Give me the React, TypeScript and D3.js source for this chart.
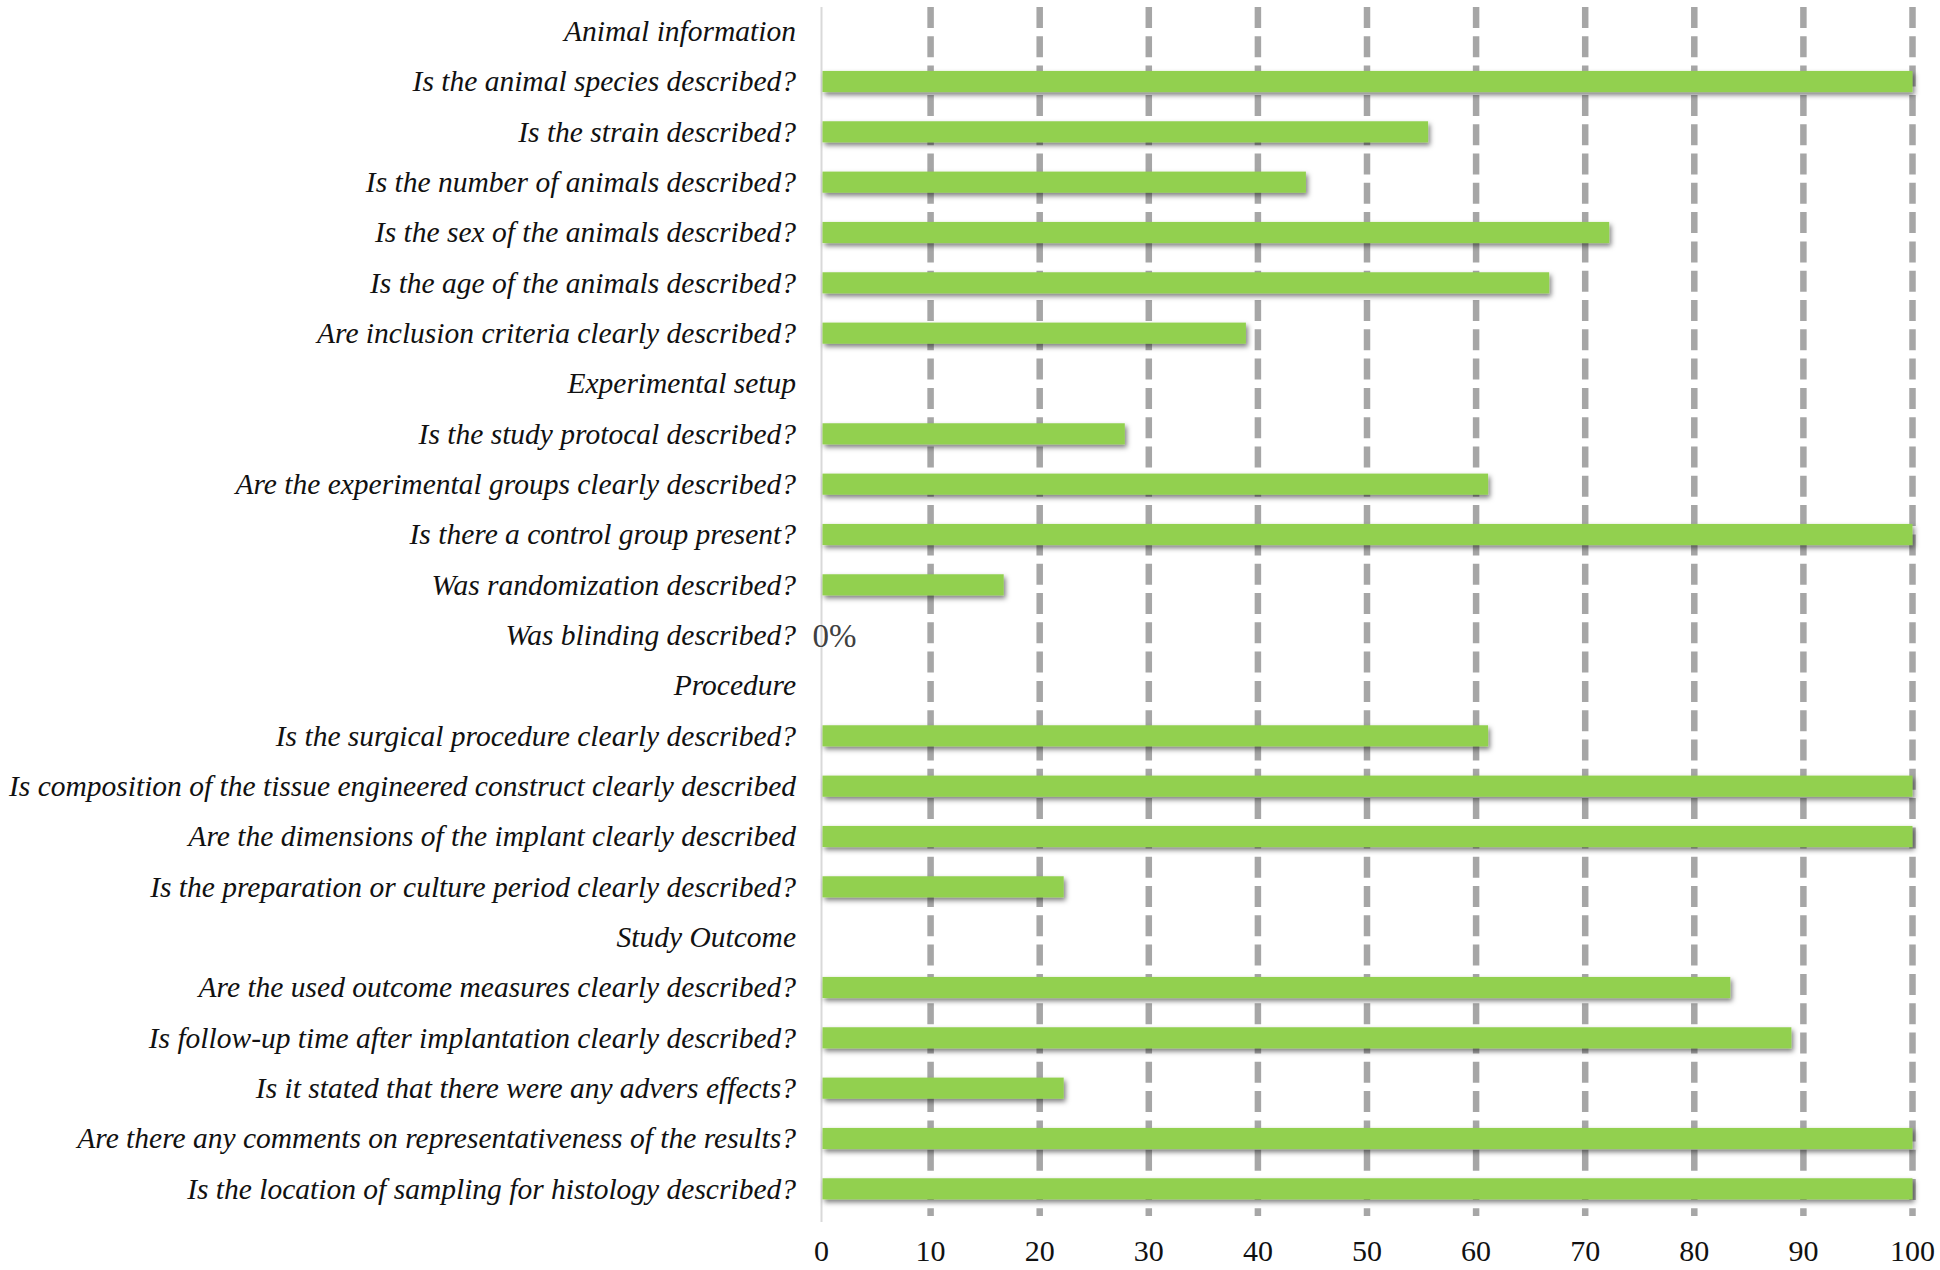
import React, { useEffect, useRef } from "react";
import * as d3 from "d3";

// rows, top to bottom. section headers have no value (null)
const categories = [
  "Animal information",
  "Is the animal species described?",
  "Is the strain described?",
  "Is the number of animals described?",
  "Is the sex of the animals described?",
  "Is the age of the animals described?",
  "Are inclusion criteria clearly described?",
  "Experimental setup",
  "Is the study protocal described?",
  "Are the experimental groups clearly described?",
  "Is there a control group present?",
  "Was randomization described?",
  "Was blinding described?",
  "Procedure",
  "Is the surgical procedure clearly described?",
  "Is composition of the tissue engineered construct clearly described",
  "Are the dimensions of the implant clearly described",
  "Is the preparation or culture period clearly described?",
  "Study Outcome",
  "Are the used outcome measures clearly described?",
  "Is follow-up time after implantation clearly described?",
  "Is it stated that there were any advers effects?",
  "Are there any comments on representativeness of the results?",
  "Is the location of sampling for histology described?",
];

// percentage of studies (n = 18)
const values: (number | null)[] = [
  null, 100, 55.6, 44.4, 72.2, 66.7, 38.9,
  null, 27.8, 61.1, 100, 16.7, 0,
  null, 61.1, 100, 100, 22.2,
  null, 83.3, 88.9, 22.2, 100, 100,
];

const xTicks = [0, 10, 20, 30, 40, 50, 60, 70, 80, 90, 100];

const W = 1940;
const H = 1270;
const FONT = "Liberation Serif";

const App = () => {
  const svgRef = useRef<SVGSVGElement | null>(null);

  useEffect(() => {
    if (!svgRef.current) return;
    const svg = d3.select(svgRef.current);
    svg.selectAll("*").remove();

    const x = d3.scaleLinear().domain([0, 100]).range([821.5, 1912.5]);
    const y = d3
      .scaleBand<string>()
      .domain(categories)
      .range([6, 1214])
      .paddingInner(0.58)
      .paddingOuter(0.29);

    const defs = svg.append("defs");
    const f = defs
      .append("filter")
      .attr("id", "barShadow")
      .attr("x", "-5%")
      .attr("y", "-50%")
      .attr("width", "110%")
      .attr("height", "220%");
    f.append("feDropShadow")
      .attr("dx", 2)
      .attr("dy", 3)
      .attr("stdDeviation", 2.5)
      .attr("flood-color", "#000")
      .attr("flood-opacity", 0.5);

    // dashed gridlines
    svg
      .append("g")
      .selectAll("line")
      .data(xTicks.filter((t) => t > 0))
      .enter()
      .append("line")
      .attr("x1", (d) => x(d))
      .attr("x2", (d) => x(d))
      .attr("y1", 7)
      .attr("y2", 1216)
      .attr("stroke", "#a6a6a6")
      .attr("stroke-width", 6.5)
      .attr("stroke-dasharray", "21 8.3");

    // category axis line at 0
    svg
      .append("line")
      .attr("x1", x(0))
      .attr("x2", x(0))
      .attr("y1", 7)
      .attr("y2", 1222)
      .attr("stroke", "#d9d9d9")
      .attr("stroke-width", 2);

    // bars
    const rows = categories.map((c, i) => ({ c, v: values[i] }));
    svg
      .append("g")
      .attr("filter", "url(#barShadow)")
      .selectAll("rect")
      .data(rows.filter((d) => d.v !== null && (d.v as number) > 0))
      .enter()
      .append("rect")
      .attr("x", x(0) + 1)
      .attr("y", (d) => y(d.c)!)
      .attr("width", (d) => x(d.v as number) - x(0) - 1)
      .attr("height", y.bandwidth())
      .attr("fill", "#92d050");

    // zero value label
    svg
      .append("g")
      .selectAll("text")
      .data(rows.filter((d) => d.v === 0))
      .enter()
      .append("text")
      .attr("x", x(0) - 9)
      .attr("y", (d) => y(d.c)! + y.bandwidth() / 2)
      .attr("dy", "0.35em")
      .style("font-family", FONT)
      .style("font-size", "33px")
      .attr("fill", "#404040")
      .text((d) => `${d.v}%`);

    // category labels
    svg
      .append("g")
      .selectAll("text")
      .data(categories)
      .enter()
      .append("text")
      .attr("x", 796)
      .attr("y", (d) => y(d)! + y.bandwidth() / 2)
      .attr("dy", "0.33em")
      .attr("text-anchor", "end")
      .style("font-family", FONT)
      .style("font-style", "italic")
      .style("font-size", "29.5px")
      .attr("fill", "#111")
      .text((d) => d);

    // x tick labels
    svg
      .append("g")
      .selectAll("text")
      .data(xTicks)
      .enter()
      .append("text")
      .attr("x", (d) => x(d))
      .attr("y", 1250)
      .attr("dy", "0.35em")
      .attr("text-anchor", "middle")
      .style("font-family", FONT)
      .style("font-size", "30px")
      .attr("fill", "#111")
      .text((d) => d);
  }, []);

  return (
    <svg
      ref={svgRef}
      width={W}
      height={H}
      style={{ position: "absolute", left: 0, top: 0, background: "#fff" }}
    ></svg>
  );
};

export default App;
